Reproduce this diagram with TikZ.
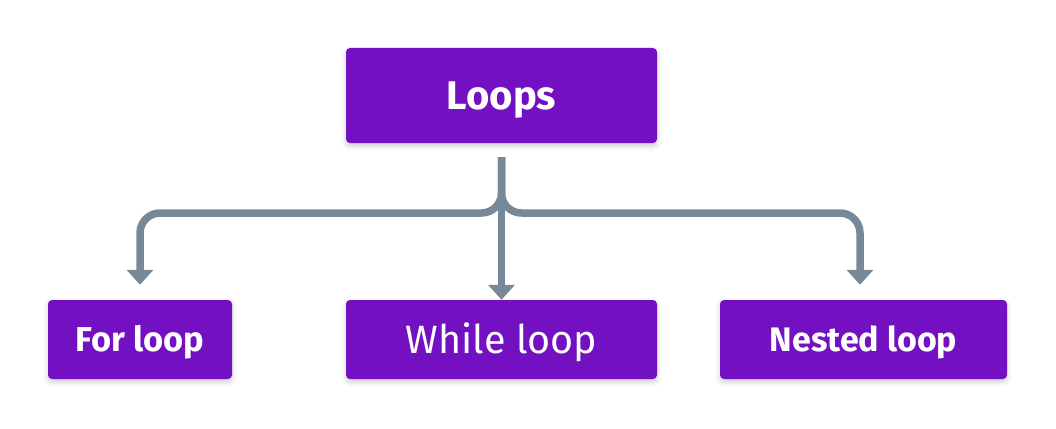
\documentclass[tikz,border=0pt]{standalone}
\usepackage{fontspec}
\setmainfont{Fira Sans}
\usetikzlibrary{arrows.meta,shadows.blur}
\definecolor{boxpurple}{HTML}{7311C2}
\definecolor{linegray}{HTML}{778899}
\tikzset{
  box/.style={fill=boxpurple, rounded corners=4pt, text=white, inner sep=0pt, text depth=0pt,
    blur shadow={shadow xshift=0pt, shadow yshift=-3pt, shadow blur radius=5pt, shadow opacity=20}},
  conn/.style={draw=linegray, line width=7.5pt, rounded corners=20pt,
    -{Triangle[width=26pt,length=15pt]}},
}
\begin{document}
\begin{tikzpicture}[x=1pt,y=-1pt]
\useasboundingbox (0,0) rectangle (1056,428);
\node[box, minimum width=311pt, minimum height=95pt, text height=27.5pt, font=\fontsize{40}{42}\selectfont\bfseries] (loops) at (501.5,95.5) {Loops};
\node[box, minimum width=184pt, minimum height=79pt, text height=23.6pt, font=\fontsize{34.5}{36}\selectfont\bfseries] (forl) at (140,339.5) {For loop};
\node[box, minimum width=311pt, minimum height=79pt, text height=27.2pt, font=\fontsize{39.5}{40}\selectfont] (whilel) at (501.5,339.5) {While loop};
\node[box, minimum width=287pt, minimum height=79pt, text height=23.4pt, font=\fontsize{34}{36}\selectfont\bfseries] (nested) at (863.5,339.5) {Nested loop};
\coordinate (s) at ([yshift=-14pt]loops.south);
\coordinate (jl) at (140,213);
\coordinate (jr) at (860,213);
\draw[conn] (s) |- (jl) -- ([yshift=15pt]forl.north);
\draw[conn] (s) |- (jr) -- ([yshift=15pt]jr |- nested.north);
\draw[conn] (s) -- (whilel.north);
\end{tikzpicture}
\end{document}
